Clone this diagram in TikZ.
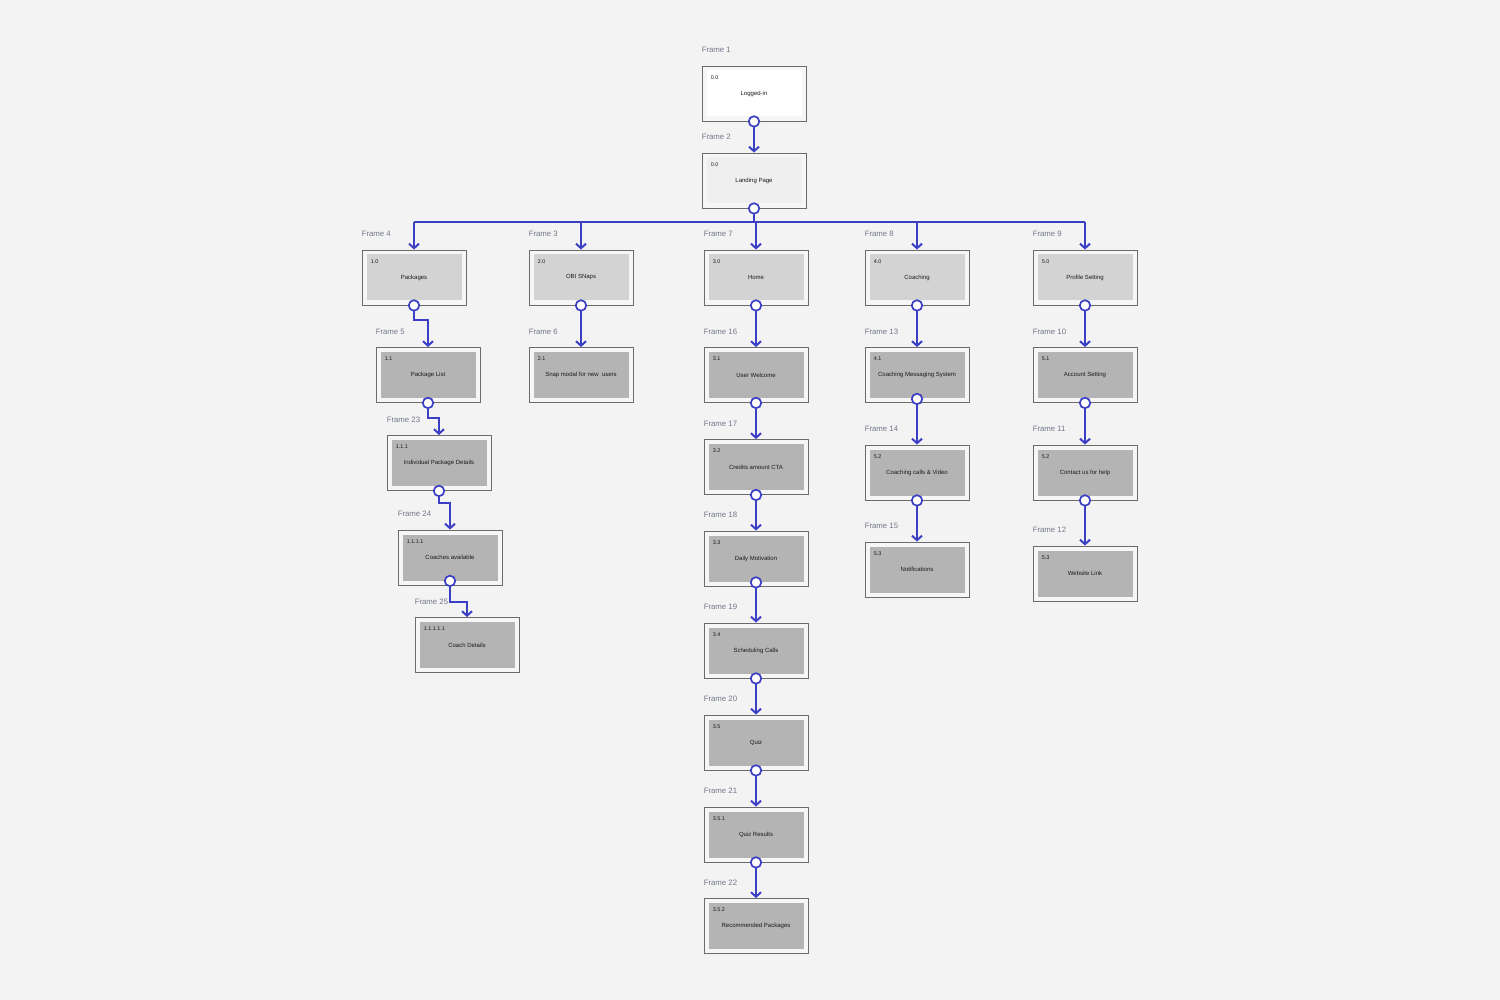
\documentclass[tikz,border=0pt]{standalone}
\usepackage{fontspec}
\setmainfont{Liberation Sans}
\usetikzlibrary{arrows.meta,calc}
\definecolor{bg}{HTML}{F3F3F3}
\definecolor{conblue}{HTML}{3B3FC4}
\definecolor{frameline}{HTML}{6B6B6B}
\definecolor{padfill}{HTML}{F6F6F6}
\definecolor{lvlone}{HTML}{D3D3D3}
\definecolor{lvltwo}{HTML}{B4B4B4}
\definecolor{landfill}{HTML}{EFEFEF}
\definecolor{flabcol}{HTML}{72778A}
\definecolor{txtcol}{HTML}{1A1A1A}
\tikzset{
  outbox/.style={draw=frameline, line width=0.9pt, fill=padfill, minimum width=104pt, minimum height=55pt, inner sep=0pt},
  inbox/.style={draw=none, minimum width=95pt, minimum height=46pt, inner sep=0pt, text=txtcol, font=\fontsize{6}{7}\selectfont},
  numtext/.style={anchor=west, inner sep=0pt, text=txtcol, font=\fontsize{5.4}{6}\selectfont},
  flab/.style={anchor=west, inner sep=0pt, text=flabcol, font=\fontsize{7.8}{9}\selectfont},
  conn/.style={draw=conblue, line width=2pt, -{Straight Barb[length=4.5pt,width=10pt,line width=2pt]}},
  bus/.style={draw=conblue, line width=2pt},
  dot/.style={circle, draw=conblue, line width=1.7pt, fill=white, minimum size=10.5pt, inner sep=0pt}
}
% name, cx, cy, frame label, number, title, inner fill
\newcommand\wfframe[7]{%
  \node[outbox] (#1) at (#2,#3) {};
  \node[inbox, fill=#7] (#1-in) at (#1.center) {#6};
  \node[numtext] (#1-num) at ($(#1.north west)+(9,12)$) {#5};
  \node[flab] (#1-lab) at ($(#1.north west)+(0,-15.5)$) {#4};
  \coordinate (#1-d) at (#1.south);
}
\begin{document}
\begin{tikzpicture}[x=1pt,y=-1pt]
\fill[bg] (0,0) rectangle (1500,1000);
\useasboundingbox (0,0) rectangle (1500,1000);

\wfframe{f1}{754}{93.5}{Frame 1}{0.0}{Logged-in}{white}
\wfframe{f2}{754}{180.5}{Frame 2}{0.0}{Landing Page}{landfill}
\wfframe{f4}{414}{277.5}{Frame 4}{1.0}{Packages}{lvlone}
\wfframe{f3}{581}{277.5}{Frame 3}{2.0}{OBI SNaps}{lvlone}
\wfframe{f7}{756}{277.5}{Frame 7}{3.0}{Home}{lvlone}
\wfframe{f8}{917}{277.5}{Frame 8}{4.0}{Coaching}{lvlone}
\wfframe{f9}{1085}{277.5}{Frame 9}{5.0}{Profile Setting}{lvlone}
\wfframe{f5}{428}{375}{Frame 5}{1.1}{Package List}{lvltwo}
\wfframe{f6}{581}{375}{Frame 6}{2.1}{Snap modal for new\ \ users}{lvltwo}
\wfframe{f16}{756}{375}{Frame 16}{3.1}{User Welcome}{lvltwo}
\wfframe{f13}{917}{375}{Frame 13}{4.1}{Coaching Messaging System}{lvltwo}
\wfframe{f10}{1085}{375}{Frame 10}{5.1}{Account Setting}{lvltwo}
\wfframe{f23}{439}{463}{Frame 23}{1.1.1}{Individual Package Details}{lvltwo}
\wfframe{f24}{450}{557.5}{Frame 24}{1.1.1.1}{Coaches available}{lvltwo}
\wfframe{f25}{467}{645}{Frame 25}{1.1.1.1.1}{Coach Details}{lvltwo}
\wfframe{f17}{756}{467}{Frame 17}{3.2}{Credits amount CTA}{lvltwo}
\wfframe{f18}{756}{558.5}{Frame 18}{3.3}{Daily Motivation}{lvltwo}
\wfframe{f19}{756}{650.5}{Frame 19}{3.4}{Scheduling Calls}{lvltwo}
\wfframe{f20}{756}{742.5}{Frame 20}{3.5}{Quiz}{lvltwo}
\wfframe{f21}{756}{834.5}{Frame 21}{3.5.1}{Quiz Results}{lvltwo}
\wfframe{f22}{756}{926}{Frame 22}{3.5.2}{Recommended Packages}{lvltwo}
\wfframe{f14}{917}{472.5}{Frame 14}{5.2}{Coaching calls \& Video}{lvltwo}
\wfframe{f15}{917}{569.5}{Frame 15}{5.3}{Notifications}{lvltwo}
\wfframe{f11}{1085}{472.5}{Frame 11}{5.2}{Contact us for help}{lvltwo}
\wfframe{f12}{1085}{573.5}{Frame 12}{5.3}{Website Link}{lvltwo}

% circles slightly above the bottom edge
\coordinate (f13-d) at ($(f13.south)+(0,-4)$);
\coordinate (f18-d) at ($(f18.south)+(0,-4)$);
\coordinate (f24-d) at ($(f24.south)+(0,-4.5)$);

% connectors
\draw[conn] (f1-d) -- (f2.north);
\coordinate (busL) at ($(f2-d)+(0,14)$);
\draw[bus] (busL -| f4.north) -- (busL -| f9.north);
\draw[bus] (f2-d) -- (busL);
\foreach \t in {f4,f3,f7,f8,f9} {\draw[conn] (busL -| \t.north) -- (\t.north);}

\draw[conn] (f4-d) -- ++(0,15) -| (f5.north);
\draw[conn] (f5-d) -- ++(0,15) -| (f23.north);
\draw[conn] (f23-d) -- ++(0,12) -| (f24.north);
\draw[conn] (f24-d) -- ++(0,21.5) -| (f25.north);
\draw[conn] (f3-d) -- (f6.north);
\draw[conn] (f7-d) -- (f16.north);
\draw[conn] (f16-d) -- (f17.north);
\draw[conn] (f17-d) -- (f18.north);
\draw[conn] (f18-d) -- (f19.north);
\draw[conn] (f19-d) -- (f20.north);
\draw[conn] (f20-d) -- (f21.north);
\draw[conn] (f21-d) -- (f22.north);
\draw[conn] (f8-d) -- (f13.north);
\draw[conn] (f13-d) -- (f14.north);
\draw[conn] (f14-d) -- (f15.north);
\draw[conn] (f9-d) -- (f10.north);
\draw[conn] (f10-d) -- (f11.north);
\draw[conn] (f11-d) -- (f12.north);

% connector start circles
\foreach \s in {f1,f2,f4,f5,f23,f24,f3,f7,f16,f17,f18,f19,f20,f21,f8,f13,f14,f9,f10,f11} {\node[dot] at (\s-d) {};}
\end{tikzpicture}
\end{document}
